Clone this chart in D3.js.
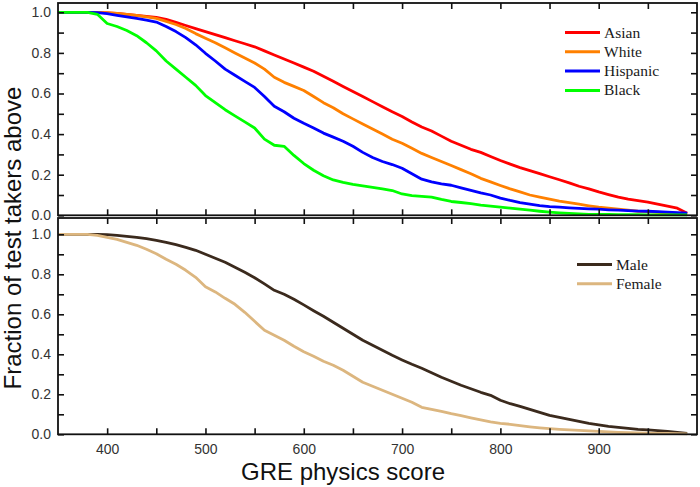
<!DOCTYPE html>
<html>
<head>
<meta charset="utf-8">
<script src="https://d3js.org/d3.v7.min.js"></script>
<style>
  body { margin: 0; background: #fff; }
  svg { display: block; }
</style>
</head>
<body>
<svg id="chart" width="700" height="487"></svg>
<script>
// GRE scores (x values)
const scores = [350, 360, 370, 380, 390, 400, 410, 420, 430, 440, 450, 460, 470, 480, 490,
  500, 510, 520, 530, 540, 550, 560, 570, 580, 590, 600, 610, 620, 630, 640, 650, 660, 670,
  680, 690, 700, 710, 720, 730, 740, 750, 760, 770, 780, 790, 800, 810, 820, 830, 840, 850,
  860, 870, 880, 890, 900, 910, 920, 930, 940, 950, 960, 970, 980, 990]

// fraction of test takers scoring above, by group
const asian = [1, 1, 1, 1, 1, 0.997, 0.995, 0.99, 0.985, 0.98, 0.975, 0.965, 0.95, 0.935, 0.92,
  0.905, 0.89, 0.875, 0.86, 0.845, 0.83, 0.81, 0.79, 0.77, 0.75, 0.73, 0.71, 0.685, 0.66, 0.635,
  0.61, 0.585, 0.56, 0.535, 0.51, 0.487, 0.46, 0.435, 0.415, 0.39, 0.365, 0.345, 0.325, 0.31,
  0.29, 0.27, 0.252, 0.235, 0.22, 0.205, 0.19, 0.175, 0.16, 0.143, 0.13, 0.115, 0.102, 0.09,
  0.08, 0.072, 0.065, 0.055, 0.045, 0.035, 0.01]
const white = [1, 1, 1, 1, 1, 0.998, 0.995, 0.99, 0.985, 0.978, 0.97, 0.955, 0.94, 0.92, 0.895,
  0.872, 0.85, 0.825, 0.8, 0.775, 0.75, 0.72, 0.68, 0.655, 0.635, 0.615, 0.585, 0.555, 0.53, 0.5,
  0.475, 0.45, 0.425, 0.4, 0.375, 0.355, 0.33, 0.305, 0.285, 0.265, 0.245, 0.225, 0.205, 0.182,
  0.165, 0.147, 0.13, 0.115, 0.1, 0.09, 0.08, 0.07, 0.062, 0.055, 0.047, 0.04, 0.035, 0.03,
  0.025, 0.02, 0.018, 0.015, 0.012, 0.01, 0.005]
const hispanic = [1, 1, 1, 1, 0.998, 0.993, 0.985, 0.978, 0.97, 0.962, 0.952, 0.93, 0.905, 0.875,
  0.84, 0.798, 0.76, 0.72, 0.69, 0.66, 0.63, 0.585, 0.537, 0.51, 0.478, 0.453, 0.43, 0.405, 0.385,
  0.365, 0.34, 0.31, 0.285, 0.265, 0.25, 0.232, 0.205, 0.178, 0.165, 0.155, 0.148, 0.135, 0.123,
  0.11, 0.1, 0.085, 0.073, 0.063, 0.055, 0.048, 0.043, 0.04, 0.037, 0.034, 0.032, 0.03, 0.027,
  0.025, 0.023, 0.021, 0.02, 0.018, 0.016, 0.013, 0.01]
const black = [1, 1, 1, 1, 0.99, 0.945, 0.93, 0.91, 0.885, 0.85, 0.81, 0.76, 0.72, 0.68, 0.64,
  0.59, 0.555, 0.52, 0.49, 0.46, 0.43, 0.375, 0.345, 0.34, 0.295, 0.255, 0.222, 0.195, 0.174,
  0.162, 0.152, 0.145, 0.138, 0.13, 0.122, 0.105, 0.097, 0.093, 0.09, 0.078, 0.068, 0.063, 0.057,
  0.05, 0.045, 0.04, 0.035, 0.03, 0.025, 0.02, 0.016, 0.012, 0.009, 0.007, 0.005, 0.004, 0.004,
  0.003, 0.003, 0.003, 0.002, 0.002, 0.002, 0.002, 0.002]

// by gender
const male = [1, 1, 1, 1, 1, 0.998, 0.995, 0.99, 0.985, 0.978, 0.97, 0.96, 0.948, 0.935, 0.92,
  0.9, 0.88, 0.86, 0.835, 0.81, 0.783, 0.752, 0.72, 0.7, 0.675, 0.647, 0.618, 0.59, 0.56, 0.53,
  0.5, 0.47, 0.445, 0.42, 0.395, 0.372, 0.35, 0.33, 0.308, 0.285, 0.265, 0.245, 0.228, 0.21,
  0.195, 0.17, 0.153, 0.14, 0.125, 0.11, 0.095, 0.085, 0.075, 0.065, 0.055, 0.047, 0.04, 0.035,
  0.03, 0.025, 0.022, 0.018, 0.014, 0.01, 0.005]
const female = [1, 1, 1, 1, 0.995, 0.985, 0.975, 0.96, 0.945, 0.925, 0.903, 0.875, 0.85, 0.82,
  0.785, 0.738, 0.712, 0.68, 0.65, 0.61, 0.565, 0.52, 0.495, 0.47, 0.44, 0.413, 0.39, 0.365,
  0.345, 0.32, 0.29, 0.26, 0.24, 0.22, 0.2, 0.18, 0.16, 0.135, 0.125, 0.115, 0.103, 0.093, 0.082,
  0.072, 0.062, 0.055, 0.05, 0.043, 0.037, 0.032, 0.028, 0.025, 0.022, 0.02, 0.017, 0.015, 0.012,
  0.01, 0.008, 0.007, 0.006, 0.005, 0.004, 0.003, 0.002]

const raceNames = ['Asian', 'White', 'Hispanic', 'Black']
const raceColors = ['#ff0000', '#ff8000', '#0000ff', '#00ff00']
const genderNames = ['Male', 'Female']
const genderColors = ['#3b2a1d', '#dcb67f']

const xTicks = [400, 450, 500, 550, 600, 650, 700, 750, 800, 850, 900, 950]
const yTicks = [0, 0.1, 0.2, 0.3, 0.4, 0.5, 0.6, 0.7, 0.8, 0.9, 1.0]

const svg = d3.select('#chart')
const left = 58, right = 697

const x = d3.scaleLinear().domain([350, 1000]).range([left, right])

const panels = [
  { top: 3, y: d3.scaleLinear().domain([0, 1]).range([215.3, 12.3]),
    series: [asian, white, hispanic, black], names: raceNames, colors: raceColors,
    legendX: 565, legendY: 32.5, xLabels: false },
  { top: 218, y: d3.scaleLinear().domain([0, 1]).range([434.3, 234.3]),
    series: [male, female], names: genderNames, colors: genderColors,
    legendX: 577, legendY: 264.5, xLabels: true }
]

const tickFont = g => g.selectAll('text')
  .style('font-family', '"Liberation Sans", Arial, sans-serif')
  .style('font-size', '14px')
  .attr('fill', '#333')

panels.forEach(p => {
  const bottom = p.y(0)
  const g = svg.append('g')

  const line = d3.line()
    .x((d, i) => x(scores[i]))
    .y(d => p.y(d))

  p.series.forEach((s, k) => {
    g.append('path')
      .datum(s)
      .attr('d', line)
      .attr('fill', 'none')
      .attr('stroke', p.colors[k])
      .attr('stroke-width', 2.8)
      .attr('stroke-linejoin', 'round')
  })

  // axes, ticks pointing inward
  g.append('g')
    .attr('transform', `translate(${left},0)`)
    .call(d3.axisLeft(p.y).tickValues(yTicks).tickSize(-6).tickPadding(7)
      .tickFormat(d => Math.round(d * 10) % 2 === 0 ? d3.format('.1f')(d) : ''))
    .call(tickFont)

  g.append('g')
    .attr('transform', `translate(${right},0)`)
    .call(d3.axisRight(p.y).tickValues(yTicks).tickSize(-6).tickFormat(''))

  g.append('g')
    .attr('transform', `translate(0,${p.top})`)
    .call(d3.axisTop(x).tickValues(xTicks).tickSize(-6).tickFormat(''))

  g.append('g')
    .attr('transform', `translate(0,${bottom})`)
    .call(d3.axisBottom(x).tickValues(xTicks).tickSize(-6).tickPadding(10)
      .tickFormat(d => p.xLabels && d % 100 === 0 ? d : ''))
    .call(tickFont)

  g.selectAll('.domain').remove()
  g.selectAll('.tick line').attr('stroke', '#111').attr('stroke-width', 1.6)

  g.append('rect')
    .attr('x', left)
    .attr('y', p.top)
    .attr('width', right - left)
    .attr('height', bottom - p.top)
    .attr('fill', 'none')
    .attr('stroke', '#111')
    .attr('stroke-width', 1.8)

  // legend
  const lg = g.append('g')
  p.names.forEach((name, k) => {
    const ly = p.legendY + k * 19.3
    lg.append('line')
      .attr('x1', p.legendX).attr('x2', p.legendX + 35)
      .attr('y1', ly).attr('y2', ly)
      .attr('stroke', p.colors[k])
      .attr('stroke-width', 3)
    lg.append('text')
      .attr('x', p.legendX + 39)
      .attr('y', ly + 5)
      .style('font-family', '"Liberation Serif", "Times New Roman", serif')
      .style('font-size', '15.5px')
      .attr('fill', '#1a1a1a')
      .text(name)
  })
})

svg.append('text')
  .attr('x', 343)
  .attr('y', 480)
  .attr('text-anchor', 'middle')
  .style('font-family', '"Liberation Sans", Arial, sans-serif')
  .style('font-size', '24px')
  .attr('fill', '#111')
  .text('GRE physics score')

svg.append('text')
  .attr('transform', 'translate(21,238) rotate(-90)')
  .attr('text-anchor', 'middle')
  .style('font-family', '"Liberation Sans", Arial, sans-serif')
  .style('font-size', '24px')
  .attr('fill', '#111')
  .text('Fraction of test takers above')
</script>
</body>
</html>
